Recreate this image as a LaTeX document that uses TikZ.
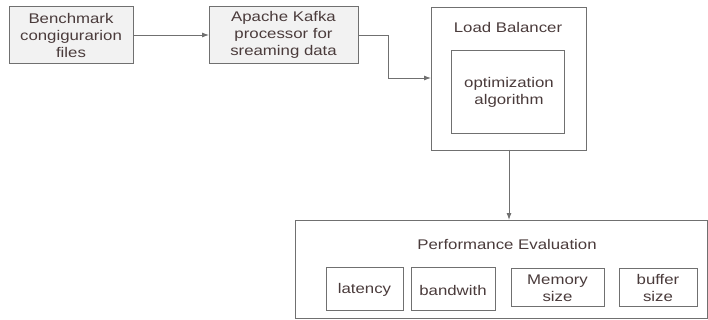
\documentclass[tikz,border=0pt]{standalone}
\usepackage{fontspec}
\setmainfont[FakeStretch=1.2]{Liberation Sans}
\usetikzlibrary{arrows.meta}
\definecolor{edge}{HTML}{707070}
\definecolor{txt}{HTML}{4A3B3B}
\definecolor{boxfill}{HTML}{F2F2F2}
\begin{document}
\begin{tikzpicture}[x=1pt,y=-1pt,
  every node/.style={font=\fontsize{14}{17}\selectfont,text=txt},
  gbox/.style={draw=edge,line width=0.9pt,fill=boxfill},
  wbox/.style={draw=edge,line width=0.9pt,fill=white},
  conn/.style={draw=edge,line width=0.9pt,-{Latex[length=7pt,width=5pt]}},
  lbl/.style={align=center,inner sep=0pt}]
\useasboundingbox (0,0) rectangle (708,320);
% top row
\draw[gbox] (9,6) rectangle (133,63);
\node[lbl] (b1) at (71,35) {Benchmark\\congigurarion\\files};
\coordinate (b1r) at (133,35);
\draw[gbox] (209,6) rectangle (358,63);
\node[lbl] (b2) at (283.5,35) {Apache Kafka\\processor for\\sreaming data};
\coordinate (b2l) at (209,35);
\coordinate (b2r) at (358,35);
% load balancer
\draw[wbox] (431,7) rectangle (586,150);
\node[lbl] (lb) at (508,27) {Load Balancer};
\coordinate (lbl) at (431,78);
\coordinate (lbb) at (509,150);
\draw[wbox] (451,50) rectangle (564,133);
\node[lbl] (opt) at (509,92) {optimization\\algorithm};
% performance evaluation
\draw[wbox] (295,220) rectangle (707,318);
\coordinate (pet) at (509,220);
\node[lbl] (pe) at (507,244) {Performance Evaluation};
\draw[wbox] (326,267) rectangle (403,310);
\node[lbl] (lat) at (364.5,290) {latency};
\draw[wbox] (411,267) rectangle (495,310);
\node[lbl] (bw) at (453,290) {bandwith};
\draw[wbox] (511,268) rectangle (604,306);
\node[lbl] (mem) at (557.5,288) {Memory\\size};
\draw[wbox] (619,268) rectangle (697,306);
\node[lbl] (buf) at (658,288) {buffer\\size};
% connectors
\draw[conn] (b1r) -- (b2l);
\draw[conn] (b2r) -| (388,78) -- (lbl);
\draw[conn] (lbb) -- (pet);
\end{tikzpicture}
\end{document}
